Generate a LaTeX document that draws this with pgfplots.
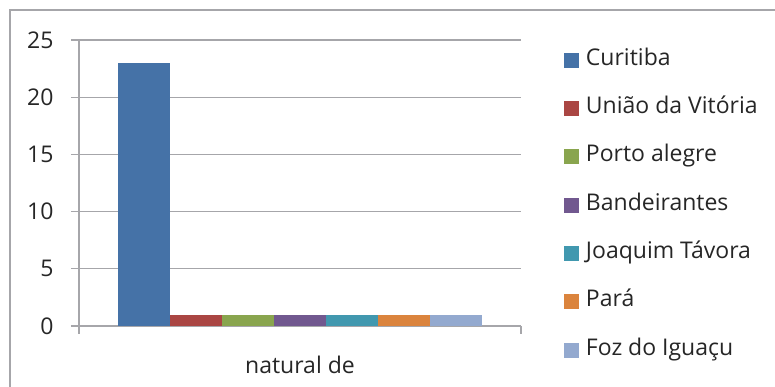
\documentclass[border=0pt]{standalone}
\usepackage{pgfplots}
\pgfplotsset{compat=1.18}
\usepackage{fontspec}
\setmainfont{Open Sans}
\definecolor{c1}{RGB}{69,114,167}
\definecolor{c2}{RGB}{170,70,67}
\definecolor{c3}{RGB}{137,165,78}
\definecolor{c4}{RGB}{113,88,143}
\definecolor{c5}{RGB}{65,152,175}
\definecolor{c6}{RGB}{219,132,61}
\definecolor{c7}{RGB}{147,169,207}
\definecolor{gridc}{RGB}{166,166,170}
\definecolor{txt}{RGB}{38,38,38}
\begin{document}
\begin{tikzpicture}[x=1pt,y=1pt]
\useasboundingbox (0,0) rectangle (775,387);
\draw[gridc, line width=1.5pt] (10,0) -- (10,377) -- (775,377);
\begin{axis}[
  at={(79pt,61pt)}, anchor=south west,
  width=442pt, height=286pt, scale only axis,
  xmin=-1.25, xmax=7.25, ymin=0, ymax=25,
  ytick={0,5,10,15,20,25},
  xtick={-1.25,7.25}, xticklabels={},
  axis x line*=bottom, axis y line*=left,
  axis line style={gridc, line width=1.2pt},
  tick style={gridc, line width=1.2pt},
  major tick length=8pt, tick align=outside,
  ymajorgrids, grid style={gridc, line width=1.2pt},
  every axis plot/.append style={ybar, bar width=1, bar shift=0pt, draw=none},
  ticklabel style={font=\fontsize{23}{27}\selectfont, text=txt},
  /pgf/number format/assume math mode=true,
  yticklabel style={xshift=-14pt},
  xlabel={natural de},
  xlabel style={font=\fontsize{23}{27}\selectfont, text=txt, at={(0.5,0)}, anchor=center, yshift=-39pt},
  legend style={draw=none, fill=none, at={(1.09,0.972)}, anchor=north west,
    font=\fontsize{23}{27}\selectfont, text=txt,
    nodes={inner sep=0pt, text height=15pt, text depth=5pt},
    row sep=28.3pt},
  legend cell align=left,
  legend image code/.code={\fill[#1] (0pt,-7.5pt) rectangle (15pt,7.5pt); \path (22pt,0pt);},
]
\addplot[fill=c1] coordinates {(0,23)};
\addplot[fill=c2] coordinates {(1,1)};
\addplot[fill=c3] coordinates {(2,1)};
\addplot[fill=c4] coordinates {(3,1)};
\addplot[fill=c5] coordinates {(4,1)};
\addplot[fill=c6] coordinates {(5,1)};
\addplot[fill=c7] coordinates {(6,1)};
\legend{Curitiba, União da Vitória, Porto alegre, Bandeirantes, Joaquim Távora, Pará, Foz do Iguaçu}
\end{axis}
\end{tikzpicture}
\end{document}
